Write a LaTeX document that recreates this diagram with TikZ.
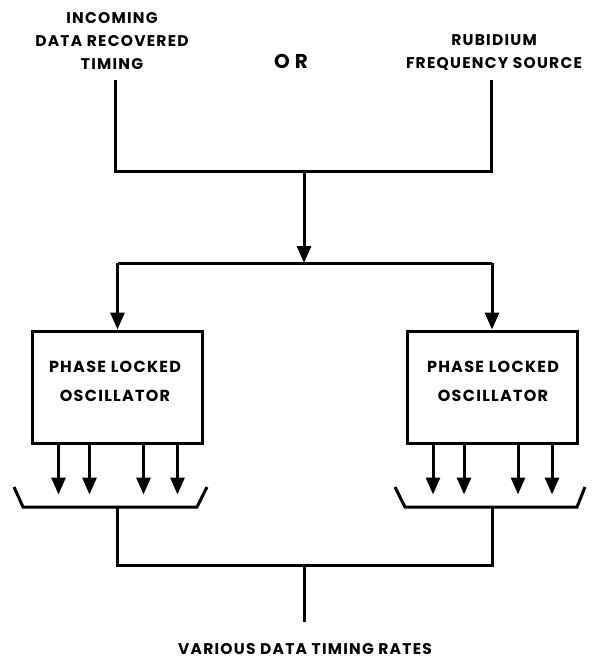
\documentclass[tikz,border=0pt]{standalone}
\usepackage{fontspec}
\setmainfont{Poppins}[LetterSpace=8]
\newfontfamily\orfont{Poppins}[LetterSpace=25]
\usetikzlibrary{arrows.meta}
\begin{document}
\begin{tikzpicture}[x=1pt,y=-1pt,line width=3pt,
  lbl/.style={font=\bfseries\fontsize{15.5}{23}\selectfont,align=center,inner sep=0pt},
  boxlbl/.style={lbl,font=\bfseries\fontsize{16}{29}\selectfont},
  plobox/.style={draw,line width=3pt,minimum width=170pt,minimum height=112pt,inner sep=0pt},
  arr/.style={-{Triangle[width=14pt,length=17pt]}},
  brk/.style={line width=3pt,line join=miter}]
\useasboundingbox (0,0) rectangle (591,660);
% top labels
\node[lbl] (src1) at (112,41) {INCOMING\\DATA RECOVERED\\TIMING};
\node[lbl,font=\orfont\bfseries\fontsize{20}{23}\selectfont] (orlbl) at (291,61) {OR};
\node[lbl] (src2) at (494,52) {RUBIDIUM\\FREQUENCY SOURCE};
% coordinates
\coordinate (c1) at (115,80);
\coordinate (c2) at (491,80);
\coordinate (j1) at (304,172);
\coordinate (j2) at (304,263);
% boxes
\node[plobox] (pl1) at (117.5,387) {};
\node[plobox] (pl2) at (492,387) {};
\node[boxlbl] (pl1t) at (115,381.5) {PHASE LOCKED\\OSCILLATOR};
\node[boxlbl] (pl2t) at (493,381.5) {PHASE LOCKED\\OSCILLATOR};
% top connectors
\draw (c1) |- (j1) -| (c2);
\draw[arr] (j1) -- (j2);
\draw (pl1.north |- j2) -- (pl2.north |- j2);
\draw[arr] (pl1.north |- j2) -- (pl1.north);
\draw[arr] (pl2.north |- j2) -- (pl2.north);
% output arrows
\foreach \dx in {-59,-28,26,60}{
  \draw[arr] ([xshift=\dx pt]pl1.south) -- ++(0,50);
  \draw[arr] ([xshift=\dx pt]pl2.south) -- ++(0,50);
}
% brackets
\coordinate (b1) at (117,507);
\coordinate (b2) at (492,507);
\draw[brk] (14,487) -- (23,507) -- (197,507) -- (207,487);
\draw[brk] (395,487) -- (405,507) -- (577,507) -- (585,487);
% bottom
\coordinate (j3) at (304,565);
\coordinate (e) at (304,622);
\draw (b1) |- (j3) -| (b2);
\draw (j3) -- (e);
\node[lbl] (out) at (305,649) {VARIOUS DATA TIMING RATES};
\end{tikzpicture}
\end{document}
